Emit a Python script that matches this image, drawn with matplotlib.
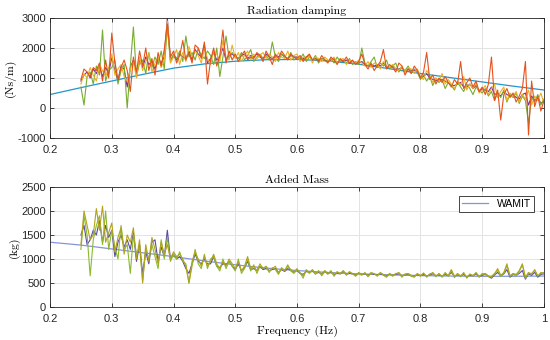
import numpy as np
import matplotlib.pyplot as plt

# frequency grid of the measured runs (0.25 .. 1.0 Hz, step 0.005)
freq = np.round(np.arange(0.25, 1.0001, 0.005), 3)
# WAMIT reference curve points
freq_wamit = [0.20, 0.25, 0.30, 0.35, 0.40, 0.45, 0.50, 0.55, 0.60,
              0.65, 0.70, 0.75, 0.80, 0.85, 0.90, 0.95, 1.00]

damp_wamit = [450, 680, 900, 1120, 1330, 1470, 1560, 1610, 1620,
              1570, 1460, 1310, 1150, 1010, 870, 730, 600]
mass_wamit = [1350, 1290, 1210, 1130, 1050, 960, 880, 810, 760,
              720, 690, 670, 655, 645, 640, 640, 645]

damp_run1 = [950, 1300, 1200, 1050, 1350, 1250, 1500, 900, 1600, 1000,
             2500, 1500, 950, 1350, 1600, 1250, 550, 1700, 1200, 1900,
             1400, 2000, 1250, 1650, 1100, 1850, 1400, 1950, 2800, 1700,
             1900, 1500, 1750, 2250, 1600, 1850, 1500, 2100, 2000, 1650,
             2200, 800, 1600, 2000, 1400, 1750, 2600, 1500, 1900, 1600,
             1800, 1550, 1750, 1900, 1600, 1700, 1650, 1850, 1750, 1550,
             1900, 1700, 1450, 1800, 1650, 1900, 1750, 1600, 1800, 1700,
             1650, 1750, 1550, 1700, 1800, 1600, 1650, 1550, 1750, 1600,
             1500, 1700, 1600, 1450, 1650, 1550, 1700, 1500, 1600, 1450,
             1550, 1800, 1450, 1300, 1500, 1250, 1400, 1550, 1950, 1300,
             1450, 1350, 1200, 1500, 1400, 1100, 1300, 1150, 1400, 1250,
             1000, 1200, 1850, 950, 1100, 800, 1000, 850, 1050, 850,
             700, 950, 800, 1550, 650, 850, 1000, 700, 900, 550,
             700, 450, 800, 1700, 250, 600, -400, 450, 650, 350,
             500, 200, 400, 650, 1550, -900, 900, 50, 400, -100,
             250]
damp_run2 = [800, 1150, 1000, 1350, 1100, 900, 1450, 1250, 1050, 1350,
             1800, 1100, 1300, 1450, 1050, 900, 1300, 1550, 1000, 1700,
             1250, 1550, 1800, 1200, 1500, 1700, 1350, 1600, 2900, 1500,
             1700, 1950, 1450, 1850, 1550, 2050, 1700, 1900, 1750, 1500,
             2000, 1650, 1450, 1900, 1800, 1550, 2250, 1700, 1600, 2100,
             1650, 1850, 1550, 1750, 1900, 1600, 1800, 1650, 1750, 1850,
             1650, 1800, 1700, 1550, 1850, 1700, 1650, 1900, 1600, 1750,
             1800, 1550, 1700, 1650, 1750, 1500, 1700, 1650, 1550, 1700,
             1600, 1550, 1700, 1500, 1600, 1650, 1450, 1600, 1550, 1500,
             1600, 1500, 1400, 1550, 1350, 1500, 1450, 1300, 1550, 1400,
             1350, 1450, 1300, 1250, 1400, 1200, 1350, 1300, 1150, 1300,
             1050, 950, 1250, 1100, 850, 1000, 900, 1150, 800, 950,
             800, 650, 900, 750, 1050, 600, 800, 650, 850, 500,
             600, 750, 450, 650, 800, 350, 550, 700, 250, 500,
             400, 550, 200, 450, 300, 600, 100, 400, 250, 500,
             150]
damp_run3 = [700, 100, 1050, 1200, 800, 1400, 1100, 2600, 900, 1250,
             1350, 1600, 800, 1250, 1450, 0, 1400, 2700, 1050, 1500,
             1600, 1150, 1850, 1350, 1700, 1450, 1900, 1300, 2700, 1550,
             1800, 1650, 1900, 1550, 2400, 1700, 1850, 1600, 2000, 1750,
             1650, 1900, 1750, 1450, 2000, 1050, 1700, 2400, 1650, 1850,
             1700, 1650, 1850, 1600, 1750, 1950, 1550, 1700, 1800, 1650,
             1750, 1600, 2200, 1700, 1550, 1800, 1700, 1650, 1850, 1600,
             1700, 1650, 1800, 1550, 1700, 1600, 1750, 1500, 1650, 1600,
             1550, 1650, 1500, 1700, 1550, 1600, 1500, 1650, 1450, 1550,
             1450, 2000, 1500, 1400, 1550, 1700, 1350, 1500, 1400, 1600,
             1300, 1400, 1500, 1200, 1350, 1250, 1400, 1150, 1300, 1200,
             950, 1100, 900, 1050, 750, 1000, 850, 950, 650, 850,
             750, 600, 850, 700, 550, 800, 650, 450, 700, 600,
             500, 650, 400, 550, 250, 500, 350, 600, 200, 450,
             350, 500, 150, 400, 250, -500, 350, 200, 450, 100,
             300]
damp_run4 = [900, 1100, 1200, 1000, 1300, 1150, 1400, 1050, 1350, 1150,
             1700, 1250, 900, 1400, 1300, 700, 1350, 1600, 1150, 1600,
             1350, 1700, 1450, 1550, 1300, 1650, 1500, 1700, 3000, 1600,
             1750, 1600, 1800, 1700, 1650, 1900, 1600, 1950, 1800, 1700,
             2100, 1500, 1650, 1850, 1600, 1700, 2000, 1600, 1750, 1800,
             1700, 1650, 1750, 1800, 1650, 1750, 1700, 1800, 1700, 1650,
             1800, 1700, 1650, 1750, 1700, 1800, 1700, 1650, 1750, 1700,
             1700, 1650, 1650, 1700, 1750, 1600, 1650, 1600, 1650, 1600,
             1550, 1600, 1650, 1500, 1600, 1550, 1600, 1500, 1550, 1500,
             1500, 1550, 1450, 1400, 1450, 1400, 1450, 1400, 1500, 1350,
             1350, 1400, 1300, 1300, 1350, 1200, 1300, 1250, 1250, 1200,
             1000, 1050, 1150, 1000, 950, 900, 950, 950, 900, 850,
             750, 750, 800, 850, 700, 700, 800, 650, 750, 550,
             650, 600, 550, 700, 450, 500, 400, 550, 450, 400,
             450, 350, 300, 450, 500, 100, 400, 250, 350, 150,
             250]

mass_run1 = [1300, 2000, 1700, 1400, 1500, 2050, 1600, 2100, 1350, 1550,
             1750, 1150, 1450, 1650, 1100, 1500, 1350, 1650, 1000, 1400,
             500, 1300, 950, 1450, 1200, 900, 1350, 1100, 1300, 1000,
             1150, 1050, 1100, 1000, 850, 500, 950, 1150, 1000, 850,
             1050, 850, 950, 1100, 900, 800, 950, 850, 1000, 900,
             800, 950, 750, 850, 1050, 800, 850, 750, 900, 800,
             850, 750, 800, 850, 700, 800, 750, 850, 780, 720,
             800, 700, 650, 760, 720, 780, 700, 740, 680, 760,
             700, 740, 660, 720, 700, 760, 680, 720, 700, 660,
             720, 680, 700, 650, 720, 690, 660, 710, 680, 640,
             700, 660, 690, 720, 650, 680, 700, 660, 640, 690,
             660, 700, 640, 680, 720, 650, 690, 640, 700, 660,
             780, 640, 690, 650, 700, 620, 680, 660, 710, 640,
             680, 700, 650, 620, 690, 800, 660, 720, 900, 650,
             700, 680, 760, 900, 620, 720, 680, 780, 650, 700,
             720]
mass_run2 = [1500, 1700, 1300, 1400, 1600, 1500, 1800, 1350, 1700, 1450,
             1600, 1050, 1350, 1500, 1250, 1400, 1200, 1550, 950, 1300,
             700, 1150, 900, 1350, 1400, 950, 1250, 1050, 1600, 1000,
             1100, 1000, 1050, 950, 800, 700, 900, 1100, 950, 900,
             1000, 900, 900, 1050, 850, 820, 900, 880, 950, 850,
             780, 900, 760, 820, 950, 780, 800, 760, 850, 780,
             800, 760, 780, 800, 720, 780, 740, 800, 760, 730,
             760, 700, 680, 740, 720, 750, 700, 720, 690, 740,
             700, 720, 680, 700, 690, 730, 680, 700, 690, 670,
             700, 680, 690, 660, 700, 680, 670, 690, 670, 650,
             680, 660, 680, 690, 650, 670, 680, 650, 640, 680,
             650, 680, 640, 670, 690, 650, 670, 640, 680, 650,
             720, 640, 670, 650, 680, 620, 660, 650, 690, 630,
             660, 680, 640, 600, 670, 720, 650, 690, 780, 620,
             680, 660, 700, 760, 580, 690, 660, 720, 620, 680,
             690]
mass_run3 = [1200, 1900, 1500, 650, 1400, 1700, 1900, 1300, 2000, 1200,
             1600, 1250, 1000, 1700, 1200, 1300, 700, 1500, 1100, 1250,
             550, 1200, 1000, 1300, 1050, 800, 1400, 1000, 1450, 950,
             1100, 1000, 1150, 950, 900, 500, 850, 1200, 900, 800,
             1100, 800, 1000, 1050, 850, 750, 1000, 800, 950, 850,
             750, 1000, 700, 800, 1000, 750, 880, 700, 850, 820,
             830, 720, 820, 780, 680, 820, 760, 880, 750, 700,
             780, 720, 600, 780, 700, 760, 680, 760, 650, 740,
             680, 760, 640, 740, 690, 740, 660, 740, 690, 640,
             700, 660, 720, 630, 700, 700, 640, 720, 660, 620,
             690, 640, 700, 700, 620, 690, 690, 640, 620, 700,
             640, 710, 620, 690, 700, 630, 700, 620, 720, 640,
             760, 610, 700, 630, 720, 600, 690, 640, 720, 620,
             700, 680, 630, 640, 700, 760, 640, 700, 860, 640,
             690, 650, 740, 880, 600, 700, 700, 760, 640, 720,
             700]

plt.rcParams['axes.unicode_minus'] = False
tick_font = 'Liberation Sans'
serif_font = 'cmr10'

fig = plt.figure(figsize=(5.5, 3.4), dpi=100)
ax1 = fig.add_axes([0.091, 0.594, 0.898, 0.353])
ax2 = fig.add_axes([0.091, 0.097, 0.898, 0.353])

ax1.plot(freq_wamit, damp_wamit, color='#2196c8', lw=0.9, label='WAMIT')
for ys, c in [(damp_run4, '#7e2f8e'), (damp_run3, '#77ac30'),
              (damp_run2, '#edb120'), (damp_run1, '#e5521c')]:
    ax1.plot(freq, ys, color=c, lw=0.8)

ax2.plot(freq_wamit, mass_wamit, color='#8396dd', lw=0.9, label='WAMIT')
for ys, c in [(mass_run2, '#5b4aa8'), (mass_run3, '#8cba2e'),
              (mass_run1, '#b3a21c')]:
    ax2.plot(freq, ys, color=c, lw=0.8)

ax1.set_ylim(-1000, 3000)
ax1.set_yticks([-1000, 0, 1000, 2000, 3000])
ax2.set_ylim(0, 2500)
ax2.set_yticks([0, 500, 1000, 1500, 2000, 2500])

for ax in (ax1, ax2):
    ax.set_xlim(0.2, 1.0)
    ax.set_xticks([0.2, 0.3, 0.4, 0.5, 0.6, 0.7, 0.8, 0.9, 1.0])
    ax.set_xticklabels(['0.2', '0.3', '0.4', '0.5', '0.6', '0.7', '0.8', '0.9', '1'])
    ax.grid(True, color='#e3e3e3', lw=0.7)
    ax.set_axisbelow(True)
    ax.tick_params(direction='in', top=True, right=True, length=3, width=0.6,
                   labelsize=8, colors='#262626', pad=3)
    ax.tick_params(axis='x', pad=5)
    for lab in ax.get_xticklabels() + ax.get_yticklabels():
        lab.set_fontfamily(tick_font)
    for s in ax.spines.values():
        s.set_color('#262626')
        s.set_linewidth(0.6)

ax1.set_title('Radiation damping', fontfamily=serif_font, fontsize=8.5, pad=3)
ax2.set_title('Added Mass', fontfamily=serif_font, fontsize=8.5, pad=3)
ax1.set_ylabel('(Ns/m)', fontfamily=serif_font, fontsize=8.5, labelpad=1)
ax2.set_ylabel('(kg)', fontfamily=serif_font, fontsize=8.5, labelpad=1)
ax2.set_xlabel('Frequency (Hz)', fontfamily=serif_font, fontsize=8.5, labelpad=1)

leg = ax2.legend(loc='upper right', prop={'family': tick_font, 'size': 7.5},
                 fancybox=False, edgecolor='#262626', framealpha=1,
                 borderpad=0.3, handlelength=2.5, bbox_to_anchor=(0.99, 0.97))
leg.get_frame().set_linewidth(0.6)

fig.savefig('out.png', dpi=100)
